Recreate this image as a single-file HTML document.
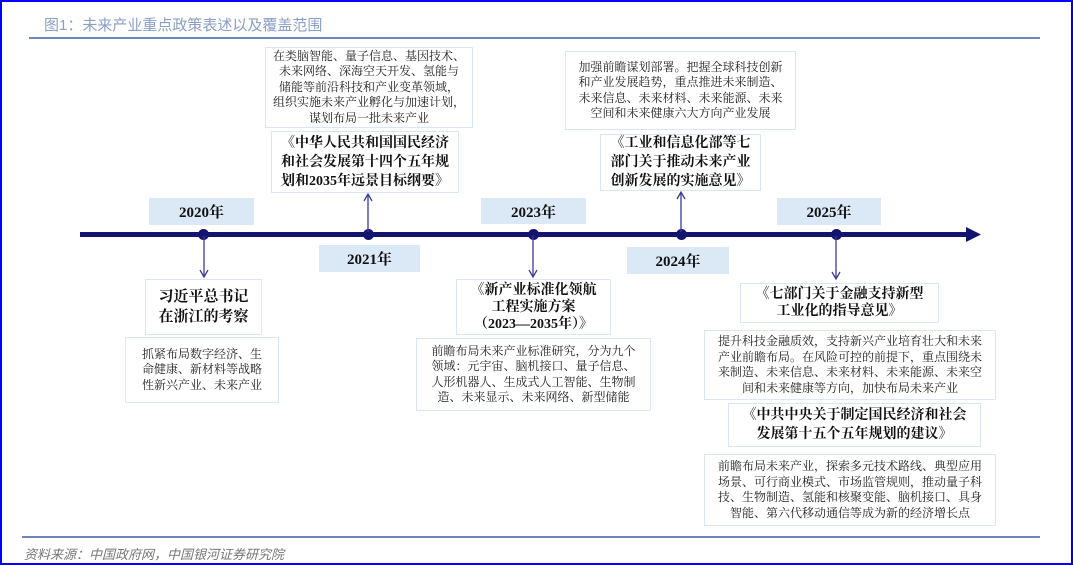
<!DOCTYPE html>
<html><head><meta charset="utf-8"><style>
*{margin:0;padding:0;box-sizing:border-box}
body{width:1073px;height:565px;position:relative;background:#fff;overflow:hidden;font-family:"Liberation Serif","Noto Serif CJK SC",serif;color:#111}
.frame{position:absolute;left:0;top:0;width:1073px;height:565px;border:2px solid #0000ff}
.b{position:absolute;border:1.5px solid #dae6f4;background:#fff;display:flex;align-items:center;justify-content:center;text-align:center;white-space:nowrap}
.d{font-size:12px;line-height:15.5px;color:#222}
.t{font-size:14px;line-height:19px;font-weight:bold;color:#111}
.y{position:absolute;background:#dbe8f6;font-size:15px;font-weight:bold;display:flex;align-items:center;justify-content:center}
.dot{position:absolute;width:11px;height:11px;border-radius:50%;background:#141470}
</style></head><body>
<div class="frame"></div>
<div style="position:absolute;left:44px;top:14px;font-family:'Liberation Sans','Noto Sans CJK SC',sans-serif;font-size:15px;color:#8a9ec6">图1：未来产业重点政策表述以及覆盖范围</div>
<div style="position:absolute;left:29px;top:37px;width:1011px;height:2px;background:#6f86bb"></div>
<div style="position:absolute;left:22px;top:536px;width:1018px;height:2px;background:#6f86bb"></div>
<div style="position:absolute;left:24px;top:544px;font-size:13px;font-style:italic;color:#777;font-family:'Liberation Serif','Noto Sans CJK SC',serif">资料来源：中国政府网，中国银河证券研究院</div>

<div style="position:absolute;left:80px;top:232px;width:892px;height:5px;background:#141470"></div>
<svg style="position:absolute;left:966px;top:227px" width="16" height="15"><polygon points="0,0 15,7.5 0,15" fill="#141470"/></svg>
<div class="dot" style="left:198px;top:229px"></div>
<div class="dot" style="left:363px;top:229px"></div>
<div class="dot" style="left:528px;top:229px"></div>
<div class="dot" style="left:676px;top:229px"></div>
<div class="dot" style="left:831px;top:229px"></div>

<div class="y" style="left:149px;top:198px;width:105px;height:27px">2020年</div>
<div class="y" style="left:319px;top:245px;width:101px;height:27px">2021年</div>
<div class="y" style="left:481px;top:198px;width:105px;height:26px">2023年</div>
<div class="y" style="left:627px;top:247px;width:102px;height:27px">2024年</div>
<div class="y" style="left:777px;top:198px;width:104px;height:27px">2025年</div>

<svg style="position:absolute;left:0;top:0" width="1073" height="565">
<g stroke="#3a3a9a" stroke-width="1.3" fill="none">
<line x1="204" y1="236" x2="204" y2="277"/><polyline points="200,270 204,277 208,270"/>
<line x1="368" y1="232" x2="368" y2="194"/><polyline points="364,201 368,194 372,201"/>
<line x1="533" y1="236" x2="533" y2="277"/><polyline points="529,270 533,277 537,270"/>
<line x1="681" y1="232" x2="681" y2="192"/><polyline points="677,199 681,192 685,199"/>
<line x1="836" y1="236" x2="836" y2="279"/><polyline points="832,272 836,279 840,272"/>
</g></svg>

<div class="b d" style="left:265px;top:47px;width:208px;height:81px">在类脑智能、量子信息、基因技术、<br>未来网络、深海空天开发、氢能与<br>储能等前沿科技和产业变革领域，<br>组织实施未来产业孵化与加速计划，<br>谋划布局一批未来产业</div>
<div class="b t" style="left:271px;top:131px;width:188px;height:62px">《中华人民共和国国民经济<br>和社会发展第十四个五年规<br>划和2035年远景目标纲要》</div>

<div class="b d" style="left:565px;top:51px;width:231px;height:79px">加强前瞻谋划部署。把握全球科技创新<br>和产业发展趋势，重点推进未来制造、<br>未来信息、未来材料、未来能源、未来<br>空间和未来健康六大方向产业发展</div>
<div class="b t" style="left:600px;top:134px;width:161px;height:57px">《工业和信息化部等七<br>部门关于推动未来产业<br>创新发展的实施意见》</div>

<div class="b t" style="left:145px;top:279px;width:117px;height:56px;font-size:15px;line-height:20px">习近平总书记<br>在浙江的考察</div>
<div class="b d" style="left:125px;top:337px;width:154px;height:66px">抓紧布局数字经济、生<br>命健康、新材料等战略<br>性新兴产业、未来产业</div>

<div class="b t" style="left:456px;top:279px;width:155px;height:56px;line-height:17px">《新产业标准化领航<br>工程实施方案<br>（2023—2035年）》</div>
<div class="b d" style="left:416px;top:338px;width:235px;height:73px">前瞻布局未来产业标准研究，分为九个<br>领域：元宇宙、脑机接口、量子信息、<br>人形机器人、生成式人工智能、生物制<br>造、未来显示、未来网络、新型储能</div>

<div class="b t" style="left:740px;top:283px;width:199px;height:40px;line-height:17px">《七部门关于金融支持新型<br>工业化的指导意见》</div>
<div class="b d" style="left:704px;top:330px;width:292px;height:70px">提升科技金融质效，支持新兴产业培育壮大和未来<br>产业前瞻布局。在风险可控的前提下，重点围绕未<br>来制造、未来信息、未来材料、未来能源、未来空<br>间和未来健康等方向，加快布局未来产业</div>
<div class="b t" style="left:728px;top:403px;width:253px;height:44px;line-height:19px">《中共中央关于制定国民经济和社会<br>发展第十五个五年规划的建议》</div>
<div class="b d" style="left:704px;top:454px;width:292px;height:72px">前瞻布局未来产业，探索多元技术路线、典型应用<br>场景、可行商业模式、市场监管规则，推动量子科<br>技、生物制造、氢能和核聚变能、脑机接口、具身<br>智能、第六代移动通信等成为新的经济增长点</div>
</body></html>
